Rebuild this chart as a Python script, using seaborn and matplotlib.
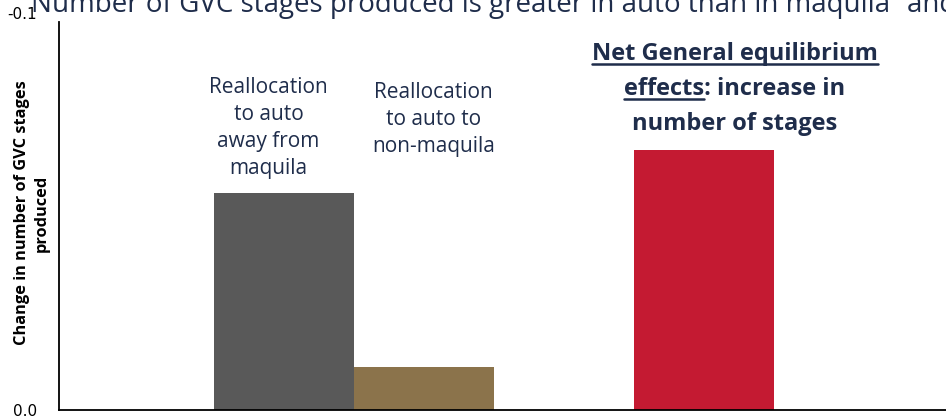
import matplotlib
matplotlib.use("Agg")
import matplotlib.pyplot as plt
import matplotlib.transforms as mtransforms
from matplotlib.lines import Line2D
import seaborn as sns
import pandas as pd

# Change in number of GVC stages produced, by effect
categories = ["Reallocation to auto away from maquila",
              "Reallocation to auto to non-maquila",
              "",
              "Net General equilibrium effects"]
values = [-0.056, -0.011, -0.067]
bar_labels = [categories[0], categories[1], categories[3]]
bar_colors = ["#595959", "#8B734B", "#C41A32"]
y_ticks = [-0.1, 0.0]
y_tick_labels = ["-0.1", "0.0"]

title = "Number of GVC stages produced is greater in auto than in maquila\u201d and"
ylabel = "Change in number of GVC stages\nproduced"

sns.set_theme(style="white")
plt.rcParams["font.family"] = ["Open Sans", "DejaVu Sans"]

navy = "#1F2D4B"

fig = plt.figure(figsize=(9.46, 4.16), dpi=100)
W, H = 946, 416
ax = fig.add_axes([59 / W, 6 / H, (W - 59) / W, (410 - 22) / H])

df = pd.DataFrame({"effect": bar_labels, "change": values})
sns.barplot(data=df, x="effect", y="change", hue="effect",
            order=categories, hue_order=bar_labels,
            palette=bar_colors, width=1.0, saturation=1,
            legend=False, ax=ax, linewidth=0)

ax.set_ylim(0, -0.1)
ax.set_xlim(-1.607, 4.729)
ax.set_yticks(y_ticks)
ax.set_yticklabels(y_tick_labels, family=["Liberation Sans Narrow", "DejaVu Sans"],
                   fontsize=11, color="black")
ax.tick_params(axis="y", length=0, pad=16)
ax.set_xticks([])
ax.set_xlabel("")
ax.set_ylabel("")
for side in ["top", "right"]:
    ax.spines[side].set_visible(False)
for side in ["left", "bottom"]:
    ax.spines[side].set_color("black")
    ax.spines[side].set_linewidth(1.3)

# the -0.1 label sits just above the end of the axis
ax.get_yticklabels()[0].set_va("bottom")

# Axis title, drawn in the left margin
fig.text(32 / W, 1 - 213 / H, ylabel, rotation=90, ha="center", va="center",
         fontsize=11.8, fontweight="bold", color="black", linespacing=1.3,
         multialignment="center")

# Title runs past the top and right edges of the figure
fig.text(31 / W, 1 - 12 / H, title, fontsize=20, color=navy, va="baseline",
         ha="left")

trans = mtransforms.blended_transform_factory(ax.transData, fig.transFigure)

# Labels above the reallocation bars
ax.text(-0.11, 1 - 77 / H, "Reallocation\nto auto\naway from\nmaquila",
        transform=trans, ha="center", va="top", fontsize=15, color=navy,
        linespacing=1.38)
ax.text(1.07, 1 - 82 / H, "Reallocation\nto auto to\nnon-maquila",
        transform=trans, ha="center", va="top", fontsize=15, color=navy,
        linespacing=1.38)

# Bold, partly underlined label for the net effect
net_lines = [("Net General equilibrium", "Net General equilibrium"),
             ("effects: increase in", "effects"),
             ("number of stages", "")]
net_x = 3.22
line_tops = [42, 77, 112]
fig.canvas.draw()
renderer = fig.canvas.get_renderer()
for (line, underlined), top in zip(net_lines, line_tops):
    t = ax.text(net_x, 1 - top / H, line, transform=trans, ha="center", va="top",
                fontsize=17, fontweight="bold", color=navy)
    if underlined:
        bb = t.get_window_extent(renderer)
        probe = ax.text(0, 0, underlined, fontsize=17, fontweight="bold")
        w = probe.get_window_extent(renderer).width
        probe.remove()
        x0 = bb.x0 / W
        y0 = (bb.y0 + 2) / H
        fig.add_artist(Line2D([x0, x0 + w / W], [y0, y0], color=navy, lw=1.8,
                              transform=fig.transFigure))

fig.savefig("out.png", dpi=100)
